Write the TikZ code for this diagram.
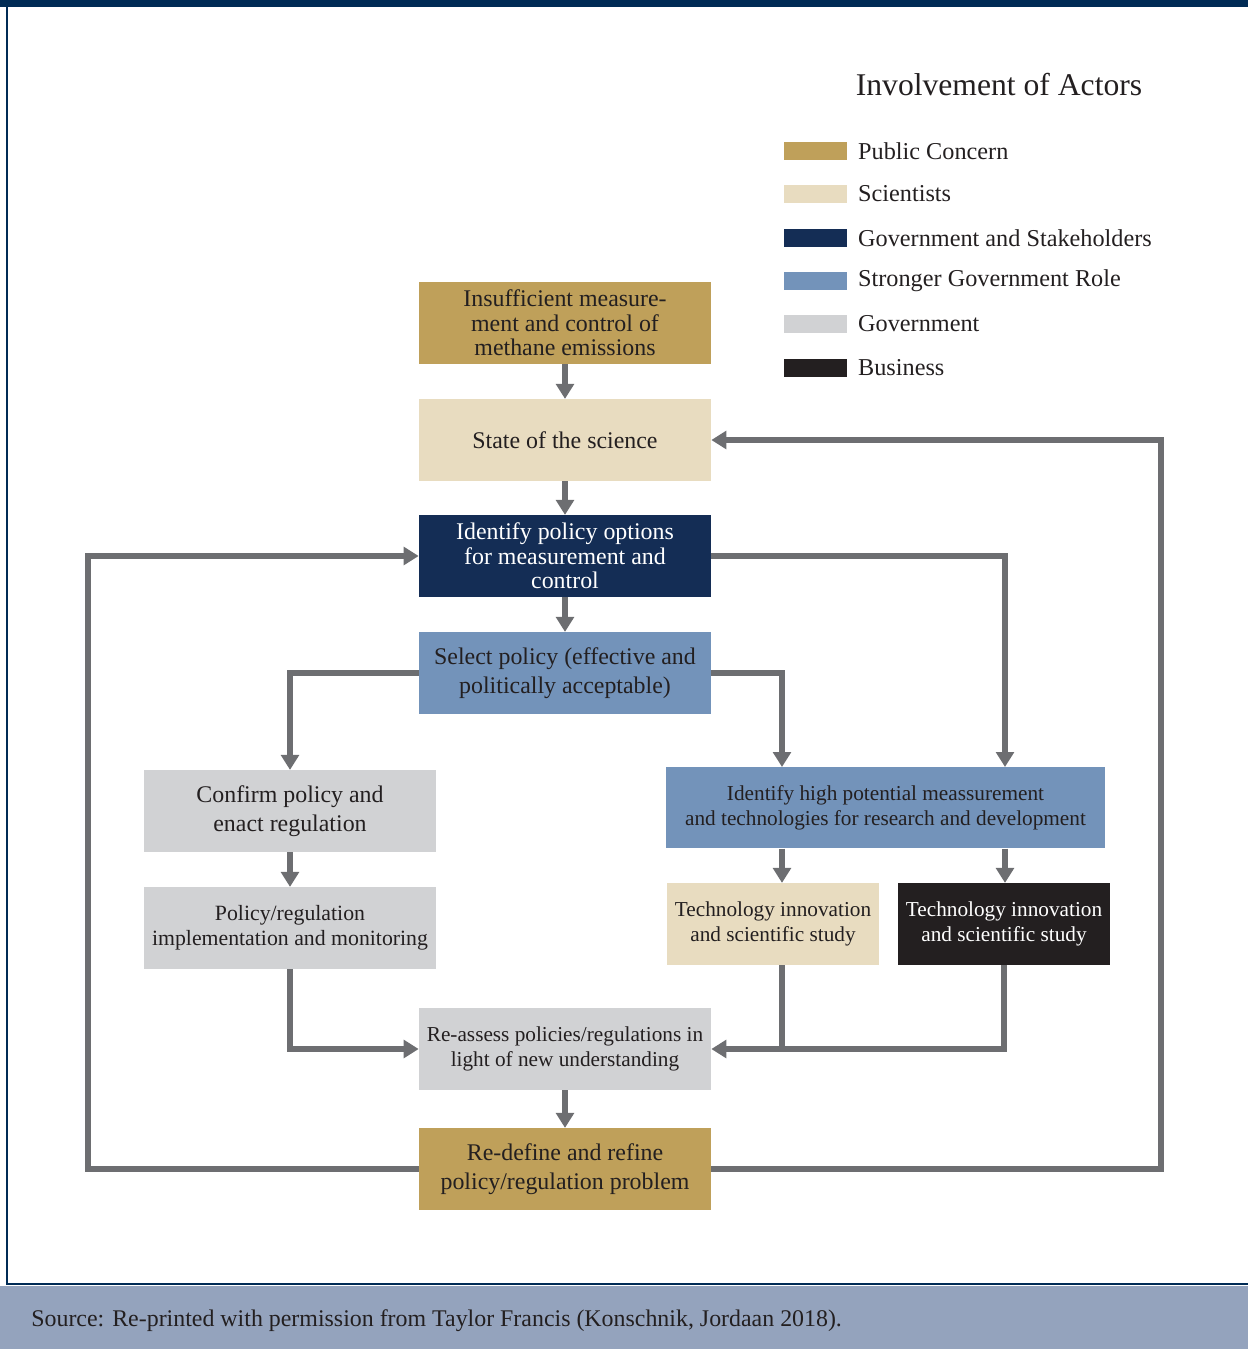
\documentclass[tikz,border=0pt]{standalone}
\usepackage{fontspec}
\setmainfont{Liberation Serif}
\usetikzlibrary{arrows.meta,positioning,calc}
\definecolor{pubgold}{HTML}{BFA05A}
\definecolor{scibeige}{HTML}{E8DCC0}
\definecolor{govnavy}{HTML}{142D55}
\definecolor{strongblue}{HTML}{7393BA}
\definecolor{govgrey}{HTML}{D1D2D4}
\definecolor{bizblack}{HTML}{231F20}
\definecolor{arrowgrey}{HTML}{6D6E71}
\definecolor{framenavy}{HTML}{002B55}
\definecolor{srcband}{HTML}{94A3BD}
\tikzset{
  fc/box/.style={inner sep=0pt, minimum width=5.84cm, minimum height=1.63cm, align=center, text=bizblack, font=\fontsize{13.6}{13.9}\selectfont},
  fc/public/.style={fc/box, fill=pubgold},
  fc/science/.style={fc/box, fill=scibeige},
  fc/govstake/.style={fc/box, fill=govnavy, text=white},
  fc/strong/.style={fc/box, fill=strongblue},
  fc/gov/.style={fc/box, fill=govgrey},
  fc/business/.style={fc/box, fill=bizblack, text=white},
  fc/big/.style={font=\fontsize{13.6}{16.5}\selectfont},
  fc/mid/.style={font=\fontsize{12.4}{14.2}\selectfont},
  fc/small/.style={font=\fontsize{12.1}{14.2}\selectfont},
  fc/line/.style={draw=arrowgrey, line width=3.3pt},
  fc/arrow/.style={fc/line, -{Triangle[length=8.5pt,width=10pt]}},
  fc/swatch/.style={minimum width=1.26cm, minimum height=0.36cm, inner sep=0pt},
  fc/legtext/.style={font=\fontsize{13.8}{15}\selectfont, text=bizblack, inner sep=0pt}
}

\begin{document}
\begin{tikzpicture}[x=0.02cm, y=-0.02cm]
  \useasboundingbox (0,0) rectangle (1248,1349);

  % frame and source band
  \fill[framenavy] (0,0) rectangle (1248,7);
  \draw[framenavy, line width=1.4pt] (7,0) -- (7,1284) -- (1248,1284);
  \fill[srcband] (0,1286) rectangle (1248,1349);
  \node[anchor=west, inner sep=0pt, text=bizblack, font=\fontsize{13.6}{15}\selectfont] (src) at (31,1321)
    {Source: Re-printed with permission from Taylor Francis (Konschnik, Jordaan 2018).};

  % legend
  \node[font=\fontsize{18}{20}\selectfont, text=bizblack, inner sep=0pt] (legtitle) at (999,85) {Involvement of Actors};
  \node[fc/swatch, fill=pubgold] (sw1) at (815,151) {};
  \node[fc/swatch, fill=scibeige] (sw2) at (815,194) {};
  \node[fc/swatch, fill=govnavy] (sw3) at (815,238) {};
  \node[fc/swatch, fill=strongblue] (sw4) at (815,281) {};
  \node[fc/swatch, fill=govgrey] (sw5) at (815,324) {};
  \node[fc/swatch, fill=bizblack] (sw6) at (815,368) {};
  \node[fc/legtext, right=0.22cm of sw1] (lg1) {Public Concern};
  \node[fc/legtext, right=0.22cm of sw2] (lg2) {Scientists};
  \node[fc/legtext, right=0.22cm of sw3] (lg3) {Government and Stakeholders};
  \node[fc/legtext, right=0.22cm of sw4] (lg4) {Stronger Government Role};
  \node[fc/legtext, right=0.22cm of sw5] (lg5) {Government};
  \node[fc/legtext, right=0.22cm of sw6] (lg6) {Business};

  % main column
  \node[fc/public] (insuff) at (565,323) {Insufficient measure-\\ment and control of\\methane emissions};
  \node[fc/science] (state) at (565,440) {State of the science};
  \node[fc/govstake] (identify) at (565,556) {Identify policy options\\for measurement and\\control};
  \node[fc/strong, fc/big] (select) at (565,673) {Select policy (effective and\\politically acceptable)};
  \node[fc/gov, fc/big] (confirm) at (290,811) {Confirm policy and\\enact regulation};
  \node[fc/gov, fc/mid] (implement) at (290,928) {Policy/regulation\\implementation and monitoring};
  \node[fc/strong, fc/small, minimum width=8.78cm] (highpot) at (885.5,807.5)
    {Identify high potential meassurement\\and technologies for research and development};
  \node[fc/science, fc/small, minimum width=4.24cm] (tech1) at (773,924) {Technology innovation\\and scientific study};
  \node[fc/business, fc/small, minimum width=4.24cm] (tech2) at (1004,924) {Technology innovation\\and scientific study};
  \node[fc/gov, fc/small] (reassess) at (565,1049) {Re-assess policies/regulations in\\light of new understanding};
  \node[fc/public, fc/big] (redefine) at (565,1169) {Re-define and refine\\policy/regulation problem};

  \coordinate (hpL) at (782,767);
  \coordinate (hpR) at (1005,767);
  \coordinate (loopL) at (88,556);
  \coordinate (loopR) at (1161,440);

  % connectors
  \draw[fc/arrow] (insuff) -- (state);
  \draw[fc/arrow] (state) -- (identify);
  \draw[fc/arrow] (identify) -- (select);
  \draw[fc/arrow] (select.west) -| (confirm.north);
  \draw[fc/arrow] (select.east) -| (hpL);
  \draw[fc/arrow] (identify.east) -| (hpR);
  \draw[fc/arrow] (confirm) -- (implement);
  \draw[fc/arrow] (implement.south) |- (reassess.west);
  \draw[fc/arrow] (hpL |- highpot.south) -- (hpL |- tech1.north);
  \draw[fc/arrow] (hpR |- highpot.south) -- (hpR |- tech2.north);
  \draw[fc/line] (hpL |- tech1.south) -- (hpL |- reassess.east);
  \draw[fc/arrow] (tech2.south) |- (reassess.east);
  \draw[fc/arrow] (reassess) -- (redefine);
  \draw[fc/arrow] (redefine.west) -| (loopL) -- (identify.west);
  \draw[fc/arrow] (redefine.east) -| (loopR) -- (state.east);
\end{tikzpicture}
\end{document}
